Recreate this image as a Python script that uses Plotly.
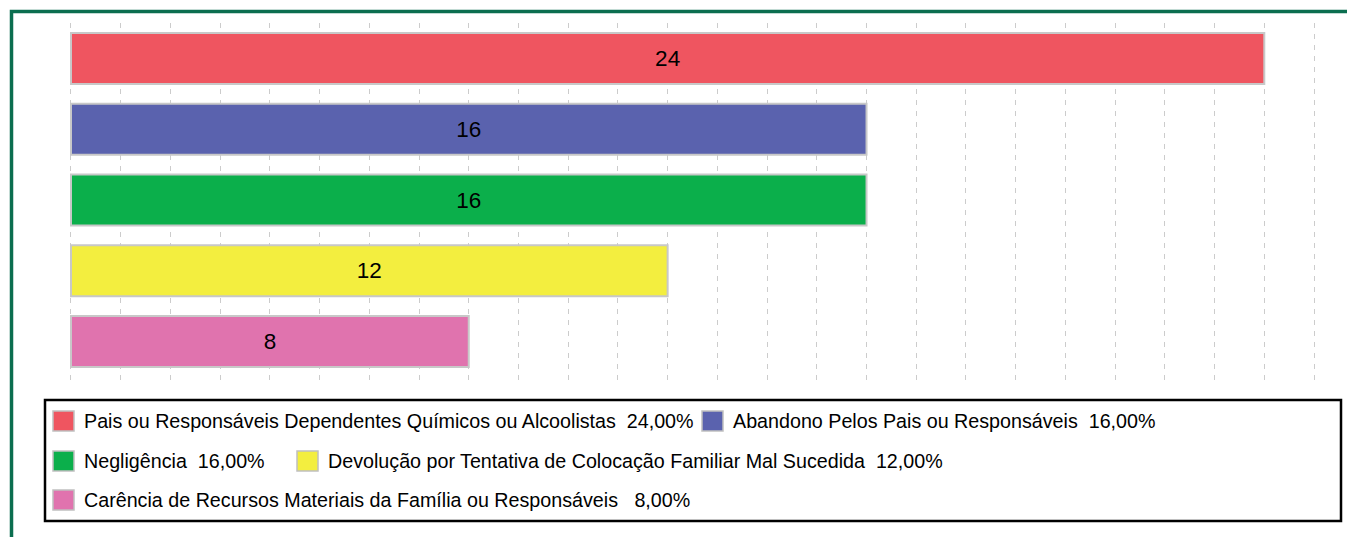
import plotly.graph_objects as go

categories = [
    "Pais ou Responsáveis Dependentes Químicos ou Alcoolistas",
    "Abandono Pelos Pais ou Responsáveis",
    "Negligência",
    "Devolução por Tentativa de Colocação Familiar Mal Sucedida",
    "Carência de Recursos Materiais da Família ou Responsáveis",
]
values = [24, 16, 16, 12, 8]
percents = ["24,00%", "16,00%", "16,00%", "12,00%", "8,00%"]
colors = ["#EF5560", "#5A62AE", "#0BAF4B", "#F3EE3F", "#E073AE"]

W, H = 1347, 537
L, R, T, B = 69, 31, 23, 152
PW, PH = W - L - R, H - T - B

def px(x):
    return (x - L) / PW

def py(y):
    return (H - B - y) / PH

FONT = "Arial, Liberation Sans, Helvetica, sans-serif"

fig = go.Figure()
fig.add_trace(go.Bar(
    y=categories, x=values, orientation="h",
    marker=dict(color=colors, line=dict(color="#c8c8c8", width=2)),
    width=0.72,
    text=[str(v) for v in values], textposition="inside",
    insidetextanchor="middle",
    textfont=dict(size=22.5, color="black", family=FONT),
    hoverinfo="x+y", showlegend=False,
))

fig.update_xaxes(range=[-0.04, 25.04], tick0=0, dtick=1, showgrid=True, gridcolor="#cccccc",
                 griddash="5px,6px", gridwidth=1, showticklabels=False,
                 zeroline=False, showline=False, fixedrange=True)
fig.update_yaxes(type="category", range=[4.615, -0.502], showticklabels=False,
                 showgrid=False, zeroline=False, showline=False, fixedrange=True)

shapes = []
annotations = []
# outer green frame
shapes.append(dict(type="rect", xref="paper", yref="paper",
                   x0=px(11.5), x1=px(1352), y0=py(11.5), y1=py(545),
                   line=dict(color="#0B6E4F", width=3.5), layer="below"))
# legend box
shapes.append(dict(type="rect", xref="paper", yref="paper",
                   x0=px(45), x1=px(1341), y0=py(400), y1=py(521),
                   line=dict(color="black", width=2.5)))

# legend item positions (square left x, row center y)
item_pos = [(53, 421), (702, 421), (53, 461), (297, 461), (53, 500)]
sep = ["&nbsp; ", "&nbsp; ", "&nbsp; ", "&nbsp; ", "&nbsp; &nbsp;"]
for i, (cat, pct, col) in enumerate(zip(categories, percents, colors)):
    sx, cy = item_pos[i]
    shapes.append(dict(type="rect", xref="paper", yref="paper",
                       x0=px(sx), x1=px(sx + 21), y0=py(cy - 10), y1=py(cy + 10),
                       fillcolor=col, line=dict(color="#c0c0c0", width=1.5)))
    annotations.append(dict(xref="paper", yref="paper", x=px(sx + 29), y=py(cy),
                            xanchor="left", yanchor="middle", showarrow=False,
                            text=cat + sep[i] + pct,
                            font=dict(size=19.7, color="black", family=FONT)))

fig.update_layout(width=W, height=H, margin=dict(l=L, r=R, t=T, b=B),
                  paper_bgcolor="white", plot_bgcolor="white",
                  shapes=shapes, annotations=annotations, showlegend=False,
                  bargap=0.28)

fig.write_html("out.html", config={"displayModeBar": False},
               post_script="document.body.style.margin='0';document.body.style.overflow='hidden';")
